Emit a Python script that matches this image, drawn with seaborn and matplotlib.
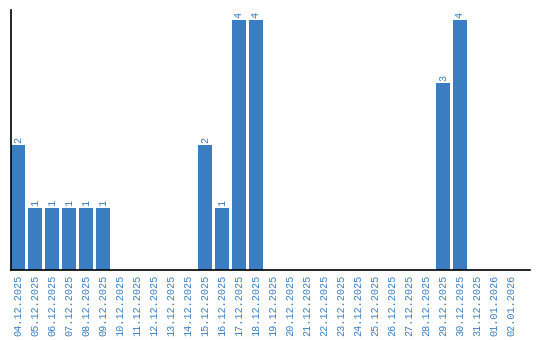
import matplotlib
matplotlib.use("Agg")
import matplotlib.pyplot as plt
import seaborn as sns
import pandas as pd

dates = ["04.12.2025", "05.12.2025", "06.12.2025", "07.12.2025", "08.12.2025",
         "09.12.2025", "10.12.2025", "11.12.2025", "12.12.2025", "13.12.2025",
         "14.12.2025", "15.12.2025", "16.12.2025", "17.12.2025", "18.12.2025",
         "19.12.2025", "20.12.2025", "21.12.2025", "22.12.2025", "23.12.2025",
         "24.12.2025", "25.12.2025", "26.12.2025", "27.12.2025", "28.12.2025",
         "29.12.2025", "30.12.2025", "31.12.2025", "01.01.2026", "02.01.2026"]
counts = [2, 1, 1, 1, 1, 1, 0, 0, 0, 0, 0, 2, 1, 4, 4,
          0, 0, 0, 0, 0, 0, 0, 0, 0, 0, 3, 4, 0, 0, 0]

df = pd.DataFrame({"date": dates, "count": counts})

sns.set_style("white")
blue = "#3b7dc1"
fig = plt.figure(figsize=(5.4, 3.4), dpi=100)
ax = fig.add_axes([11/540, 1-270/340, (530-11)/540, 260/340])
sns.barplot(data=df, x="date", y="count", color=blue, saturation=1,
            width=14/17, ax=ax)
for p in ax.patches:
    p.set_edgecolor("none")
for i, v in enumerate(counts):
    if v > 0:
        ax.text(i, v + 0.03, str(v), rotation=90, ha="center", va="bottom",
                color=blue, fontsize=7.3, family="Liberation Mono")
ax.set_xlim(-0.41, 30.12)
ax.set_ylim(0, 4.16)
ax.set_xlabel("")
ax.set_ylabel("")
ax.set_yticks([])
ax.tick_params(axis="x", length=0, pad=3.5, colors=blue)
for lab in ax.get_xticklabels():
    lab.set_rotation(90)
    lab.set_fontsize(7.3)
    lab.set_family("Liberation Mono")
    lab.set_color(blue)
for s in ["top", "right"]:
    ax.spines[s].set_visible(False)
for s in ["left", "bottom"]:
    ax.spines[s].set_color("black")
    ax.spines[s].set_linewidth(1.2)
fig.savefig("out.png", dpi=100)
